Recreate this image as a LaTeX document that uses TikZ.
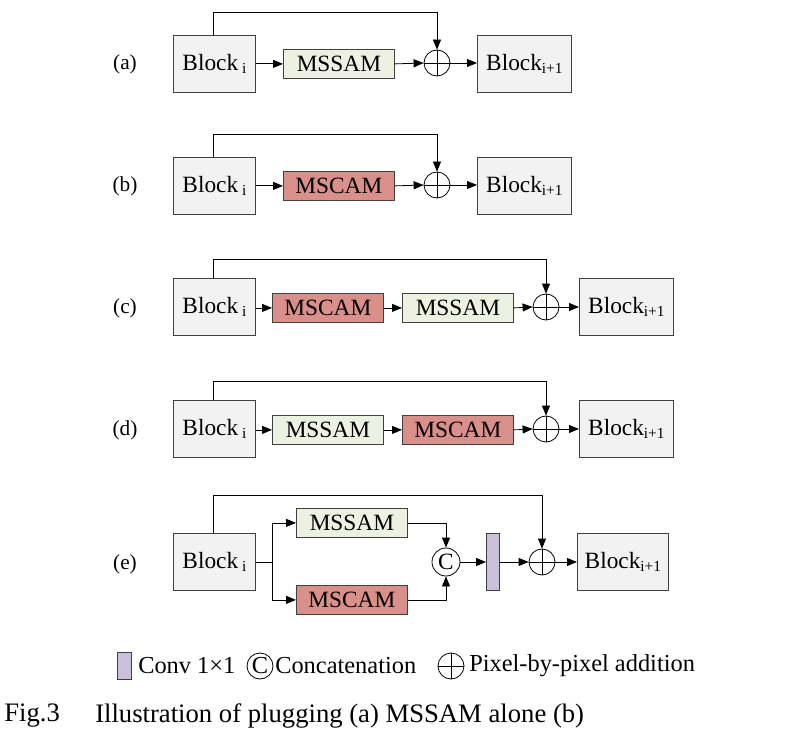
\documentclass[tikz,border=0pt]{standalone}
\usepackage{fontspec}
\setmainfont{Liberation Serif}
\usetikzlibrary{arrows.meta}
\definecolor{blk}{HTML}{F2F2F2}
\definecolor{grn}{HTML}{EDF1E1}
\definecolor{rd}{HTML}{D98F8A}
\definecolor{pur}{HTML}{CBC0DB}
\begin{document}
\begin{tikzpicture}[x=0.75pt,y=-0.75pt,
 box/.style={draw=black!75,line width=0.6pt,inner sep=0,anchor=north west},
 arr/.style={-{Triangle[length=7.5pt,width=6pt]},line width=0.6pt},
 ln/.style={line width=0.6pt},
 t/.style={font=\fontsize{17.5pt}{19pt}\selectfont},
 lg/.style={font=\fontsize{18.3pt}{20pt}\selectfont},
 lab/.style={font=\fontsize{16pt}{17pt}\selectfont}]
\useasboundingbox (0,0) rectangle (794,735);
\newcommand\blki[3]{\node[box,fill=blk,minimum width=82*0.75pt,minimum height=57*0.75pt,t] (#1) at (173,#2) {Block\,\raisebox{-0.35ex}{\fontsize{11.5pt}{12pt}\selectfont i}};}
\newcommand\blkn[4]{\node[box,fill=blk,minimum width=#4*0.75pt,minimum height=57*0.75pt,t] (#1) at (#3,#2) {Block\raisebox{-0.35ex}{\fontsize{11.5pt}{12pt}\selectfont i+1}};}
\newcommand\md[5]{\node[box,fill=#4,minimum width=111*0.75pt,minimum height=29*0.75pt,t] (#1) at (#2,#3) {#5};}
\newcommand\plus[3]{\node[draw,circle,minimum size=26*0.75pt,inner sep=0,line width=0.6pt] (#1) at (#2,#3) {};
 \draw[ln] (#1.north)--(#1.south) (#1.west)--(#1.east);}
% (a)
\node[lab] (la) at (125,64) {(a)};
\blki{a1}{35}{}
\md{a2}{283}{49}{grn}{MSSAM}
\plus{a3}{437}{63}
\blkn{a4}{35}{477}{94}
\draw[arr] (a1.east|-a2) -- (a2.west);
\draw[arr] (a2.east) -- (a3.west);
\draw[arr] (a3.east) -- (a4.west|-a3);
\coordinate (as) at (213,12);
\draw[arr] (213,35) -- (as) -| (a3.north);
% (b)
\node[lab] (lb) at (125,186) {(b)};
\blki{b1}{157}{}
\md{b2}{283}{171}{rd}{MSCAM}
\plus{b3}{437}{185}
\blkn{b4}{157}{477}{94}
\draw[arr] (b1.east|-b2) -- (b2.west);
\draw[arr] (b2.east) -- (b3.west);
\draw[arr] (b3.east) -- (b4.west|-b3);
\coordinate (bs) at (213,134);
\draw[arr] (213,157) -- (bs) -| (b3.north);
% (c)
\node[lab] (lc) at (125,308) {(c)};
\blki{c1}{278}{}
\md{c2}{272}{293}{rd}{MSCAM}
\md{c3}{402}{293}{grn}{MSSAM}
\plus{c4}{546}{307}
\blkn{c5}{278}{579}{94}
\draw[arr] (c1.east|-c2) -- (c2.west);
\draw[arr] (c2.east) -- (c3.west);
\draw[arr] (c3.east) -- (c4.west);
\draw[arr] (c4.east) -- (c5.west|-c4);
\coordinate (cs) at (213,259);
\draw[arr] (213,278) -- (cs) -| (c4.north);
% (d)
\node[lab] (ld) at (125,430) {(d)};
\blki{d1}{400}{}
\md{d2}{272}{415}{grn}{MSSAM}
\md{d3}{402}{415}{rd}{MSCAM}
\plus{d4}{546}{429}
\blkn{d5}{400}{579}{94}
\draw[arr] (d1.east|-d2) -- (d2.west);
\draw[arr] (d2.east) -- (d3.west);
\draw[arr] (d3.east) -- (d4.west);
\draw[arr] (d4.east) -- (d5.west|-d4);
\coordinate (ds) at (213,381);
\draw[arr] (213,400) -- (ds) -| (d4.north);
% (e)
\node[lab] (le) at (125,564) {(e)};
\blki{e1}{533}{}
\md{e2}{296}{508}{grn}{MSSAM}
\md{e3}{296}{585}{rd}{MSCAM}
\node[draw,circle,minimum size=28*0.75pt,inner sep=0,line width=0.6pt,t] (e4) at (446,562) {C};
\node[box,fill=pur,minimum width=13*0.75pt,minimum height=57*0.75pt] (e5) at (486,533) {};
\plus{e6}{542}{562}
\blkn{e7}{533}{577}{91}
\coordinate (eb) at (272,562);
\draw[ln] (e1.east|-eb) -- (eb);
\draw[arr] (eb) |- (e2.west);
\draw[arr] (eb) |- (e3.west);
\draw[arr] (e2.east) -| (e4.north);
\draw[arr] (e3.east) -| (e4.south);
\draw[arr] (e4.east) -- (e5.west|-e4);
\draw[arr] (e5.east|-e4) -- (e6.west);
\draw[arr] (e6.east) -- (e7.west|-e6);
\coordinate (es) at (213,495);
\draw[arr] (213,533) -- (es) -| (e6.north);
% legend
\node[box,fill=pur,minimum width=14*0.75pt,minimum height=27*0.75pt] (g1) at (117,652) {};
\node[lg,anchor=west,inner sep=0] (g1t) at (138,666) {Conv 1×1};
\node[draw,circle,minimum size=26*0.75pt,inner sep=0,line width=0.6pt,lg] (g2) at (260,666) {C};
\node[lg,anchor=west,inner sep=0] (g2t) at (275,666) {Concatenation};
\plus{g3}{451}{666}
\node[lg,anchor=west,inner sep=0] (g3t) at (469,666) {Pixel-by-pixel addition};
% caption
\node[font=\fontsize{20pt}{22pt}\selectfont,anchor=west,inner sep=0] (f1) at (4,716) {Fig.3};
\node[font=\fontsize{20pt}{22pt}\selectfont,anchor=west,inner sep=0] (f2) at (95,716) {Illustration of plugging (a) MSSAM alone (b)};
\end{tikzpicture}
\end{document}
